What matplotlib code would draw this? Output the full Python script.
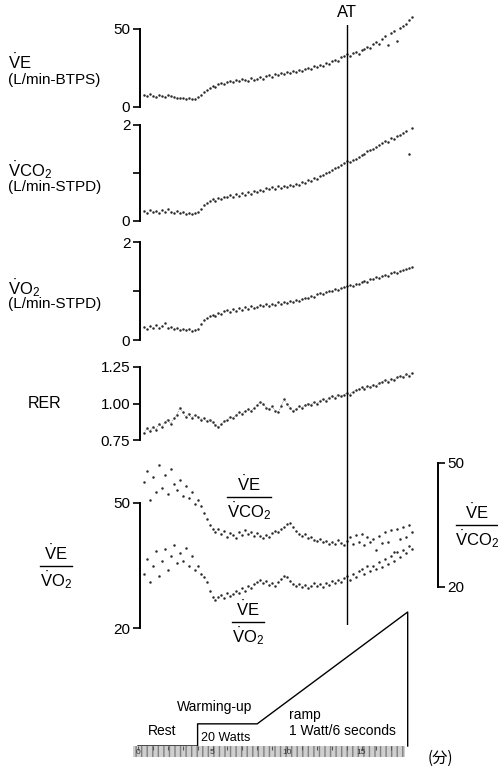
import numpy as np
import matplotlib
matplotlib.use("Agg")
import matplotlib.pyplot as plt
from matplotlib.lines import Line2D
from matplotlib.patches import Rectangle

plt.rcParams['font.family'] = ['Liberation Sans', 'DejaVu Sans']
plt.rcParams['mathtext.fontset'] = 'custom'
plt.rcParams['mathtext.rm'] = 'Liberation Sans'
plt.rcParams['mathtext.it'] = 'Liberation Sans'
plt.rcParams['mathtext.bf'] = 'Liberation Sans:bold'

# sample times (min), one reading every 0.2 min from 0.4 to 18.4
t = np.round(np.arange(0.4, 18.41, 0.2), 1)

# VE (L/min BTPS)  rest / warming-up / ramp
ve = [7.5, 6.8, 8.2, 7.0, 6.5, 7.8, 7.2, 6.4, 7.9, 6.9, 6.2, 5.8, 6.0, 5.5, 5.2, 5.6, 5.0, 5.4,
      6.2, 8.0, 9.5, 11.0, 12.0, 13.4, 12.8, 14.5, 15.2, 14.6, 16.0, 16.8, 15.9, 17.2, 16.5, 18.0, 17.4, 16.8, 18.3, 17.6,
      18.2, 19.4, 18.0, 19.8, 20.5, 19.2, 21.0, 20.3, 21.8, 21.0, 22.4, 21.5, 23.0, 22.2, 23.8, 23.0, 24.6, 25.3,
      24.4, 26.0, 25.6, 27.2, 26.4, 28.3, 27.6, 29.5, 30.2, 29.4, 31.8, 32.5, 33.8, 32.6, 34.6, 35.2, 34.0, 36.8,
      37.5, 38.6, 37.9, 40.2, 41.5, 40.6, 43.8, 45.2, 39.5, 47.5, 48.6, 42.0, 50.8, 52.2, 53.5, 55.8, 57.5]

# VCO2 (L/min STPD)
vco2 = [0.20, 0.17, 0.23, 0.19, 0.21, 0.16, 0.22, 0.18, 0.24, 0.19, 0.17, 0.20, 0.16, 0.18, 0.14, 0.17, 0.15, 0.16,
        0.18, 0.26, 0.33, 0.37, 0.42, 0.45, 0.41, 0.48, 0.46, 0.51, 0.49, 0.54, 0.51, 0.56, 0.53, 0.58, 0.55, 0.60, 0.57, 0.62,
        0.61, 0.65, 0.62, 0.68, 0.66, 0.70, 0.67, 0.72, 0.69, 0.73, 0.71, 0.76, 0.72, 0.78, 0.75, 0.81, 0.79, 0.85,
        0.83, 0.89, 0.87, 0.94, 0.96, 0.99, 1.02, 1.06, 1.10, 1.12, 1.17, 1.20, 1.24, 1.22, 1.28, 1.30, 1.33, 1.38,
        1.40, 1.45, 1.47, 1.50, 1.55, 1.58, 1.62, 1.66, 1.64, 1.72, 1.70, 1.78, 1.80, 1.84, 1.88, 1.40, 1.94]

# VO2 (L/min STPD)
vo2 = [0.27, 0.23, 0.29, 0.25, 0.30, 0.24, 0.28, 0.34, 0.25, 0.27, 0.22, 0.25, 0.21, 0.23, 0.20, 0.22, 0.19, 0.21,
       0.22, 0.33, 0.40, 0.44, 0.48, 0.52, 0.50, 0.56, 0.54, 0.59, 0.61, 0.58, 0.63, 0.60, 0.65, 0.62, 0.67, 0.64, 0.69, 0.66,
       0.68, 0.71, 0.69, 0.73, 0.70, 0.74, 0.72, 0.77, 0.74, 0.78, 0.76, 0.80, 0.78, 0.82, 0.80, 0.84, 0.86, 0.85,
       0.90, 0.88, 0.93, 0.95, 0.94, 0.98, 0.99, 1.01, 1.04, 1.03, 1.07, 1.09, 1.10, 1.12, 1.11, 1.15, 1.14, 1.18,
       1.20, 1.19, 1.24, 1.25, 1.28, 1.26, 1.31, 1.33, 1.30, 1.36, 1.38, 1.37, 1.41, 1.43, 1.45, 1.47, 1.50]

# RER
rer = [0.80, 0.83, 0.81, 0.84, 0.82, 0.86, 0.84, 0.87, 0.89, 0.86, 0.90, 0.92, 0.97, 0.94, 0.91, 0.93, 0.90, 0.92,
       0.91, 0.89, 0.90, 0.88, 0.89, 0.87, 0.85, 0.84, 0.86, 0.88, 0.89, 0.91, 0.90, 0.92, 0.94, 0.93, 0.95, 0.96, 0.95, 0.97,
       0.99, 1.01, 1.00, 0.97, 0.96, 0.98, 0.95, 0.94, 0.98, 1.03, 1.00, 0.97, 0.95, 0.96, 0.98, 0.97, 0.99, 1.00,
       0.99, 1.01, 1.00, 1.02, 1.03, 1.02, 1.04, 1.05, 1.04, 1.06, 1.05, 1.06, 1.07, 1.06, 1.08, 1.09, 1.10, 1.11,
       1.10, 1.12, 1.11, 1.13, 1.12, 1.14, 1.15, 1.16, 1.15, 1.17, 1.16, 1.18, 1.19, 1.18, 1.20, 1.19, 1.21]

# VE/VCO2 (right scale)
ve_vco2 = [45.5, 48.0, 41.0, 46.5, 43.0, 49.5, 44.0, 47.0, 42.5, 48.5, 45.0, 43.5, 46.0, 42.0, 44.5, 41.5, 43.0, 40.0,
           41.0, 39.5, 38.0, 36.5, 35.0, 34.0, 33.2, 34.0, 32.8, 33.5, 32.2, 33.0, 32.5, 31.8, 33.4, 32.6, 33.8, 32.9, 33.2, 32.4,
           33.0, 32.3, 31.8, 32.6, 32.0, 33.0, 33.6, 33.2, 34.0, 34.6, 35.2, 35.6, 34.4, 33.5, 32.8, 32.3, 32.8, 31.8,
           32.2, 31.4, 31.2, 31.7, 30.8, 31.2, 30.5, 31.0, 30.4, 31.3, 30.6, 30.2, 31.2, 32.0, 30.4, 32.6, 31.0, 32.8,
           30.2, 32.0, 30.8, 31.5, 29.0, 32.4, 30.6, 33.2, 31.0, 33.8, 28.5, 34.0, 31.6, 34.6, 32.0, 35.0, 33.2]

# VE/VO2 (left scale)
ve_vo2 = [33.0, 36.5, 31.0, 34.8, 38.5, 32.5, 36.0, 39.0, 34.0, 37.3, 40.0, 35.5, 38.0, 36.0, 39.2, 35.0, 37.3, 34.0,
          34.8, 33.0, 32.3, 31.0, 29.0, 27.5, 26.8, 27.4, 28.0, 27.2, 28.5, 27.8, 28.2, 29.0, 28.4, 29.5, 28.8, 30.0, 29.6, 30.6,
          31.0, 31.6, 30.8, 31.2, 30.4, 30.9, 30.2, 31.0, 31.8, 32.6, 32.2, 31.4, 30.6, 30.0, 30.5, 29.8, 30.4, 29.6,
          30.2, 30.8, 30.2, 30.6, 29.9, 30.8, 30.3, 31.2, 30.7, 31.5, 31.0, 31.9, 32.4, 31.6, 33.0, 32.2, 33.8, 34.2,
          33.0, 34.8, 33.8, 35.0, 34.2, 35.8, 34.6, 36.6, 35.4, 37.4, 36.0, 38.2, 37.0, 38.8, 38.0, 39.6, 39.0]

at_time = 14.0

# work load protocol
work_t = [0, 4.0, 4.0, 8.0, 18.1, 18.1]
work_w = [0, 0, 20, 20, 121, 0]
ruler_ticks = [0, 5, 10, 15]

W, H = 498, 767
fig = plt.figure(figsize=(W / 100, H / 100), dpi=100)


def px2t(x):
    return (x - 138) / 14.9


def box(x0, x1, top, bot):
    return [x0 / W, 1 - bot / H, (x1 - x0) / W, (bot - top) / H]


def panel(top, bot, lo, hi, ticks, labels, x1=420):
    ax = fig.add_axes(box(140, x1, top, bot))
    ax.set_xlim(px2t(140), px2t(x1))
    ax.set_ylim(lo, hi)
    for s in ['top', 'right', 'bottom']:
        ax.spines[s].set_visible(False)
    ax.spines['left'].set_linewidth(1.4)
    ax.set_yticks(ticks)
    ax.set_yticklabels(labels)
    ax.tick_params(axis='y', direction='out', length=5, width=1.2, labelsize=11, pad=2)
    ax.set_xticks([])
    ax.patch.set_alpha(0)
    return ax


def dots(ax, y):
    ax.scatter(t, y, s=3.2, c='#2a2a2a', linewidths=0, clip_on=False)


def ftext(x, y, s, **kw):
    fig.text(x / W, 1 - y / H, s, **kw)


def frac(xc, yc, num, den, half, fs=12):
    ftext(xc, yc - 3, num, ha='center', va='bottom', fontsize=fs)
    ftext(xc, yc + 3, den, ha='center', va='top', fontsize=fs)
    fig.add_artist(Line2D([(xc - half) / W, (xc + half) / W], [1 - yc / H] * 2,
                          lw=1.0, color='k'))


VE = r'$\dot{\mathrm{V}}\mathrm{E}$'
VCO2 = r'$\dot{\mathrm{V}}\mathrm{CO_2}$'
VO2 = r'$\dot{\mathrm{V}}\mathrm{O_2}$'

ax1 = panel(29, 107, 0, 50, [0, 50], ['0', '50'])
dots(ax1, ve)
ax2 = panel(125, 221, 0, 2, [0, 1, 2], ['0', '', '2'])
dots(ax2, vco2)
ax3 = panel(242, 340, 0, 2, [0, 1, 2], ['0', '', '2'])
dots(ax3, vo2)
ax4 = panel(367, 440, 0.75, 1.25, [0.75, 1.0, 1.25], ['0.75', '1.00', '1.25'])
ax4.plot(t, rer, color='#555555', lw=0.5, ls=':')
dots(ax4, rer)
ax5 = panel(503, 628, 20, 50, [20, 50], ['20', '50'])
dots(ax5, ve_vo2)

ax6 = panel(463, 587, 20, 50, [20, 50], ['20', '50'], x1=438)
ax6.spines['left'].set_visible(False)
ax6.spines['right'].set_visible(True)
ax6.spines['right'].set_linewidth(1.4)
ax6.yaxis.tick_right()
ax6.tick_params(axis='y', direction='out', length=5, width=1.2, labelsize=11, pad=2)
dots(ax6, ve_vco2)

# AT line across panels
axa = fig.add_axes(box(140, 420, 25, 625))
axa.set_xlim(px2t(140), px2t(420))
axa.axis('off')
axa.axvline(at_time, color='k', lw=1.0)
axa.text(at_time, 1.008, 'AT', transform=axa.get_xaxis_transform(),
         ha='center', va='bottom', fontsize=12)

# work load
axw = fig.add_axes(box(133, 420, 612, 746))
axw.set_xlim(px2t(133), px2t(420))
axw.set_ylim(0, max(work_w))
axw.axis('off')
axw.plot(work_t, work_w, color='k', lw=1.0, clip_on=False)

# time ruler
axr = fig.add_axes(box(133, 405, 746, 757))
axr.set_xlim(px2t(133), px2t(405))
axr.set_ylim(0, 1)
for s in axr.spines.values():
    s.set_visible(False)
axr.add_patch(Rectangle((0, 0), 1, 1, transform=axr.transAxes, facecolor='#cfcfcf',
                        edgecolor='#808080', hatch='|||', lw=0))
axr.set_yticks([])
axr.set_xticks(range(0, 18))
axr.tick_params(axis='x', direction='in', length=3, width=0.8, top=True, bottom=False,
                labelbottom=False, color='#555555')
for m in ruler_ticks:
    axr.text(m, 0.45, str(m), fontsize=6, ha='center', va='center', color='#333333')
ftext(440, 758, '(分)', ha='center', va='center', fontsize=11,
      family=['Noto Sans CJK JP', 'DejaVu Sans'])

# left labels
ftext(8, 62, VE, ha='left', va='center', fontsize=12)
ftext(8, 80, '(L/min-BTPS)', ha='left', va='center', fontsize=11)
ftext(8, 170, VCO2, ha='left', va='center', fontsize=12)
ftext(8, 187, '(L/min-STPD)', ha='left', va='center', fontsize=11)
ftext(8, 288, VO2, ha='left', va='center', fontsize=12)
ftext(8, 304, '(L/min-STPD)', ha='left', va='center', fontsize=11)
ftext(28, 403, 'RER', ha='left', va='center', fontsize=11.5)

frac(56, 566, VE, VO2, 16)
frac(249, 497, VE, VCO2, 22)
frac(248, 622, VE, VO2, 16)
frac(477, 525, VE, VCO2, 21)

# protocol labels
ftext(162, 731, 'Rest', ha='center', va='center', fontsize=10)
ftext(215, 707, 'Warming-up', ha='center', va='center', fontsize=10)
ftext(226, 738, '20 Watts', ha='center', va='center', fontsize=9)
ftext(289, 715, 'ramp', ha='left', va='center', fontsize=10)
ftext(289, 731, '1 Watt/6 seconds', ha='left', va='center', fontsize=10)

fig.savefig('out.png', dpi=100)
